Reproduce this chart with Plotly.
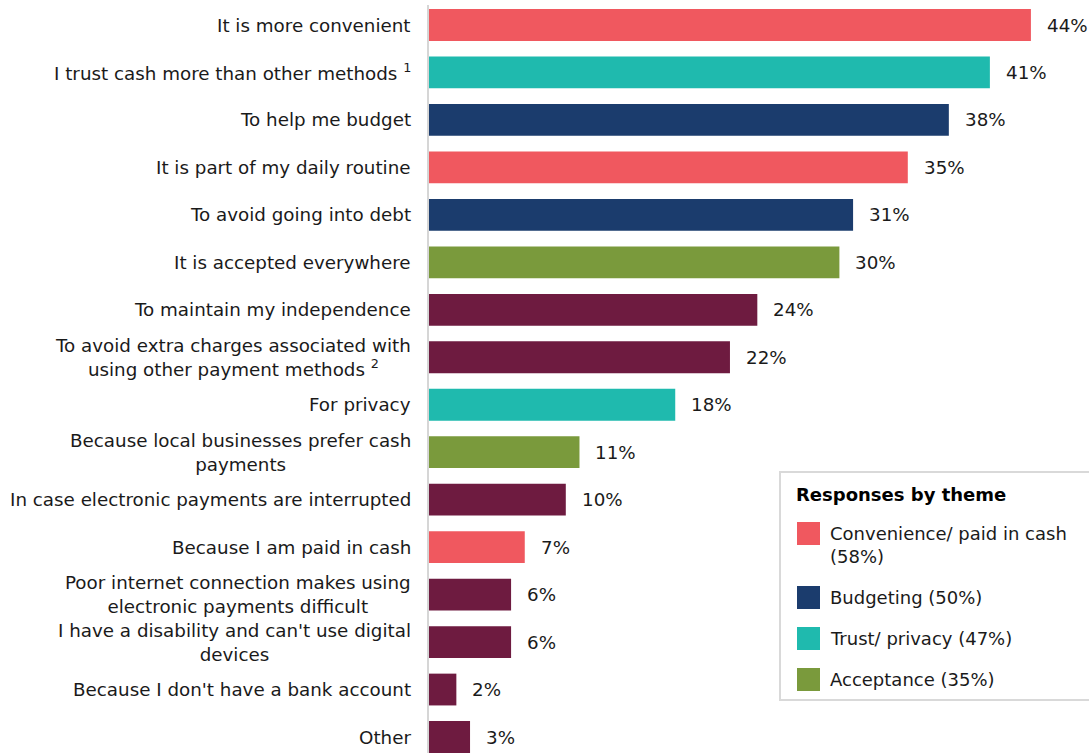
import plotly.graph_objects as go

categories = [
    "It is more convenient",
    "I trust cash more than other methods <sup>1</sup>",
    "To help me budget",
    "It is part of my daily routine",
    "To avoid going into debt",
    "It is accepted everywhere",
    "To maintain my independence",
    "To avoid extra charges associated with<br>using other payment methods <sup>2</sup>",
    "For privacy",
    "Because local businesses prefer cash<br>payments",
    "In case electronic payments are interrupted",
    "Because I am paid in cash",
    "Poor internet connection makes using<br>electronic payments difficult",
    "I have a disability and can't use digital<br>devices",
    "Because I don't have a bank account",
    "Other",
]
values = [44, 41, 38, 35, 31, 30, 24, 22, 18, 11, 10, 7, 6, 6, 2, 3]
themes = ["conv", "trust", "budget", "conv", "budget", "accept", "other", "other",
          "trust", "accept", "other", "conv", "other", "other", "other", "other"]

theme_colors = {
    "conv": "#F0585F",
    "budget": "#1B3C6D",
    "trust": "#1FBAAE",
    "accept": "#7A9A3C",
    "other": "#6E1B40",
}
legend_themes = ["conv", "budget", "trust", "accept"]
legend_labels = ["Convenience/ paid in cash<br>(58%)", "Budgeting (50%)",
                 "Trust/ privacy (47%)", "Acceptance (35%)"]
legend_title = "Responses by theme"

W, H = 1089, 753
ML, MR, MT, MB = 429, 0, 5, 0
FONT = "Verdana, DejaVu Sans, sans-serif"
TXT = "#1A1A1A"
FS = 18.3

def px_x(px):
    return (px - ML) / (W - ML - MR)

def px_y(py):
    return (H - MB - py) / (H - MT - MB)

fig = go.Figure()
fig.add_trace(go.Bar(
    y=categories, x=values, orientation="h",
    marker=dict(color=[theme_colors[t] for t in themes], line=dict(width=0)),
    showlegend=False, hoverinfo="x+y",
))

annotations = []
for c in categories:
    annotations.append(dict(
        xref="paper", yref="y", x=0, y=c, text=c, showarrow=False,
        xanchor="right", yanchor="middle", align="center", xshift=-16,
        font=dict(family=FONT, size=FS, color=TXT),
    ))
for c, v in zip(categories, values):
    annotations.append(dict(
        xref="x", yref="y", x=v, y=c, text=f"{v}%", showarrow=False,
        xanchor="left", yanchor="middle", xshift=14,
        font=dict(family=FONT, size=FS, color=TXT),
    ))

shapes = [dict(
    type="rect", xref="paper", yref="paper",
    x0=px_x(780), x1=px_x(1100), y0=px_y(700), y1=px_y(472),
    line=dict(color="#D9D9D9", width=2), fillcolor="white", layer="above",
)]
annotations.append(dict(
    xref="paper", yref="paper", x=px_x(794), y=px_y(494), text=f"<b>{legend_title}</b>",
    showarrow=False, xanchor="left", yanchor="middle", align="left",
    font=dict(family=FONT, size=18, color="#000000"),
))
sq_tops = [522, 586, 627, 668]
txt_centers = [545, 597, 638, 679]
for t, lab, top, tc in zip(legend_themes, legend_labels, sq_tops, txt_centers):
    shapes.append(dict(
        type="rect", xref="paper", yref="paper",
        x0=px_x(797), x1=px_x(820), y0=px_y(top + 23), y1=px_y(top),
        line=dict(width=0), fillcolor=theme_colors[t], layer="above",
    ))
    annotations.append(dict(
        xref="paper", yref="paper", x=px_x(828), y=px_y(tc), text=lab,
        showarrow=False, xanchor="left", yanchor="middle", align="left",
        font=dict(family=FONT, size=18, color=TXT),
    ))

top_units = (25 - MT) / 47.47
bot_units = (H - MB - 737) / 47.47

fig.update_layout(
    width=W, height=H,
    margin=dict(l=ML, r=MR, t=MT, b=MB, pad=0),
    paper_bgcolor="white", plot_bgcolor="white",
    bargap=0.33,
    font=dict(family=FONT, size=FS, color=TXT),
    xaxis=dict(range=[0, (W - ML - MR) / 13.68], visible=False, fixedrange=True),
    yaxis=dict(
        range=[len(categories) - 1 + bot_units, -top_units],
        showticklabels=False, showgrid=False, zeroline=False,
        showline=True, linecolor="#D6D6D6", linewidth=2, ticks="",
        fixedrange=True,
    ),
    shapes=shapes,
    annotations=annotations,
)

fig.write_html(
    "out.html",
    config={"displayModeBar": False},
    post_script="document.body.style.margin='0';document.body.style.overflow='hidden';",
)
